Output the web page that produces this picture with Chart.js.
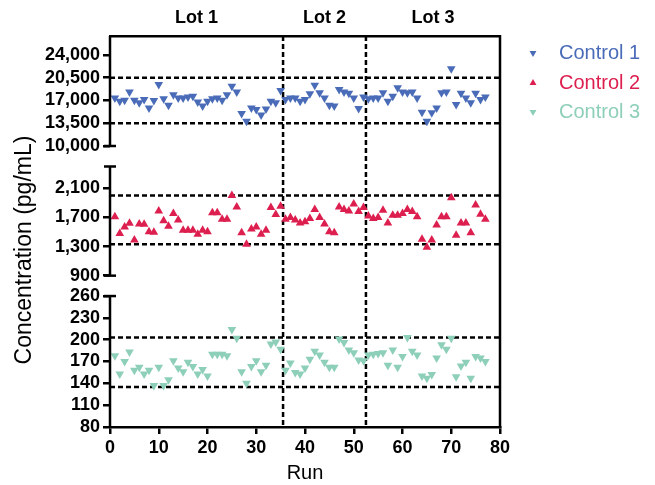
<!DOCTYPE html>
<html><head><meta charset="utf-8">
<script src="https://cdn.jsdelivr.net/npm/chart.js@4"></script>
<style>html,body{margin:0;padding:0;background:#fff}</style>
</head><body>
<canvas id="c" width="655" height="485" style="display:block;width:655px;height:485px"></canvas>
<script>
const runs = [1,2,3,4,5,6,7,8,9,10,11,12,13,14,15,16,17,18,19,20,21,22,23,24,25,26,27,28,29,30,31,32,33,34,35,36,37,38,39,40,41,42,43,44,45,46,47,48,49,50,51,52,53,54,55,56,57,58,59,60,61,62,63,64,65,66,67,68,69,70,71,72,73,74,75,76,77];
const control1 = [17400,16900,17050,18300,17050,16650,17150,15850,17000,19450,17250,16250,17900,17400,17400,17550,17650,16750,16150,16900,17250,17400,17050,17900,19200,18300,15000,13800,15850,15600,14750,15700,16900,16650,18550,17150,17400,17400,16900,17150,18050,19350,18200,17400,16250,16150,18700,18300,18100,17400,15750,17550,17250,17400,17400,18200,16900,17650,18950,18300,18200,18300,17400,15200,13800,15100,15850,18200,18300,21900,16400,18100,17400,16650,18100,17150,17550];
const control2 = [1710,1480,1570,1620,1390,1610,1605,1505,1495,1790,1655,1580,1755,1665,1525,1525,1525,1470,1525,1505,1765,1765,1675,1675,2000,1845,1490,1330,1540,1570,1470,1525,1835,1740,1855,1675,1700,1665,1625,1640,1685,1810,1700,1610,1505,1490,1845,1810,1790,1885,1780,1835,1720,1685,1700,1800,1625,1730,1730,1755,1810,1780,1710,1400,1290,1390,1595,1710,1710,1970,1455,1625,1625,1490,1870,1745,1675];
const control3 = [178,153,170,183,158,162,153,158,137,162,137,145,171,161,156,169,163,153,159,150,180,180,180,178,214,202,156,140,163,171,156,165,194,197,187,158,168,155,153,161,173,184,179,169,162,162,201,196,186,182,172,171,179,180,181,182,165,186,162,177,203,184,179,150,147,152,175,193,187,202,149,164,169,147,177,175,170];
const seriesNames = ['Control 1', 'Control 2', 'Control 3'];
const seriesColors = ['#4a6cb8', '#dd1f4f', '#8dcfb8'];
const lotLabels = ['Lot 1', 'Lot 2', 'Lot 3'];
const lotCenters = [17.75, 44, 66.25];
const lotBreaks = [35.5, 52.5];
const ticks1 = [10000, 13500, 17000, 20500, 24000];
const ticks2 = [900, 1300, 1700, 2100];
const ticks3 = [80, 110, 140, 170, 200, 230, 260];
const limits1 = [13500, 20500];
const limits2 = [1330, 2000];
const limits3 = [135, 203];

const BLACK = '#000';
const FONT = "'Liberation Sans', Arial, sans-serif";
const tickFont = {family: FONT, size: 18, weight: 'bold'};

function pts(vals) { return runs.map((r, i) => ({x: r, y: vals[i]})); }
function limitSets(vals, axis) {
  return vals.map(v => ({
    type: 'scatter', data: [{x: 0, y: v}, {x: 80, y: v}], yAxisID: axis, showLine: true,
    borderColor: BLACK, borderWidth: 2.5, borderDash: [5, 3], pointRadius: 0, order: 2
  }));
}
function pointSet(i, vals, axis, rot) {
  return {
    label: seriesNames[i], data: pts(vals), yAxisID: axis, pointStyle: 'triangle', rotation: rot,
    pointRadius: 5, pointBorderWidth: 0, backgroundColor: seriesColors[i], borderColor: seriesColors[i], order: 0
  };
}
function yAxis(min, max, weight, ticks) {
  return {
    type: 'linear', position: 'left', stack: 'conc', stackWeight: weight, min: min, max: max,
    border: {display: false},
    grid: {drawOnChartArea: false, drawTicks: true, tickLength: 7, lineWidth: 2.5, color: BLACK},
    ticks: {font: tickFont, color: BLACK, padding: 3, autoSkip: false, callback: v => v.toLocaleString('en-US')},
    afterBuildTicks: s => { s.ticks = ticks.map(v => ({value: v})); },
    afterFit: s => { s.width = 110; }
  };
}

const decor = {
  id: 'decor',
  beforeDatasetsDraw(chart) {
    const {ctx, chartArea: a, scales} = chart;
    ctx.save();
    ctx.strokeStyle = BLACK; ctx.lineWidth = 2.5; ctx.setLineDash([5, 3]);
    lotBreaks.forEach(b => {
      const x = scales.x.getPixelForValue(b);
      ctx.beginPath(); ctx.moveTo(x, a.top); ctx.lineTo(x, a.bottom); ctx.stroke();
    });
    ctx.restore();
  },
  afterDraw(chart) {
    const {ctx, chartArea: a, scales} = chart;
    ctx.save();
    ctx.strokeStyle = BLACK; ctx.lineWidth = 2.5; ctx.setLineDash([]);
    ctx.beginPath(); ctx.moveTo(a.right, a.top - 1); ctx.lineTo(a.right, a.bottom + 1); ctx.stroke();
    const segs = [[scales.y1, scales.y1.max, 10000, false, true], [scales.y2, 2400, 900, true, true], [scales.y3, 260, 80, true, false]];
    const L = a.left;
    segs.forEach(([s, v0, v1, c0, c1]) => {
      const p0 = s.getPixelForValue(v0), p1 = s.getPixelForValue(v1);
      ctx.beginPath(); ctx.moveTo(L, p0); ctx.lineTo(L, p1); ctx.stroke();
      if (c0) { ctx.beginPath(); ctx.moveTo(L - 6, p0); ctx.lineTo(L + 6, p0); ctx.stroke(); }
      if (c1) { ctx.beginPath(); ctx.moveTo(L - 6, p1); ctx.lineTo(L + 6, p1); ctx.stroke(); }
    });
    ctx.fillStyle = BLACK; ctx.font = "23px " + FONT; ctx.textAlign = 'center'; ctx.textBaseline = 'middle';
    ctx.translate(25, 250); ctx.rotate(-Math.PI / 2); ctx.fillText('Concentration (pg/mL)', 0, 0);
    ctx.restore();
    ctx.save();
    const rows = [a.top + 17, a.top + 47, a.top + 76];
    const rots = [180, 0, 180];
    seriesNames.forEach((n, i) => {
      ctx.fillStyle = seriesColors[i];
      Chart.helpers.drawPoint(ctx, {pointStyle: 'triangle', rotation: rots[i], radius: 4, borderWidth: 0}, a.right + 33, rows[i]);
      ctx.font = "20px " + FONT; ctx.textAlign = 'left'; ctx.textBaseline = 'middle';
      ctx.fillText(n, a.right + 59, rows[i]);
    });
    ctx.restore();
  }
};

new Chart(document.getElementById('c'), {
  type: 'scatter',
  data: {
    datasets: [
      pointSet(0, control1, 'y1', 180),
      pointSet(1, control2, 'y2', 0),
      pointSet(2, control3, 'y3', 180),
      ...limitSets(limits1, 'y1'), ...limitSets(limits2, 'y2'), ...limitSets(limits3, 'y3')
    ]
  },
  options: {
    responsive: false, animation: false, devicePixelRatio: 1,
    layout: {padding: {left: 0, right: 155, top: 0, bottom: 0}},
    plugins: {legend: {display: false}, tooltip: {enabled: false}},
    scales: {
      x: {
        type: 'linear', position: 'bottom', min: 0, max: 80,
        border: {display: true, color: BLACK, width: 2.5},
        grid: {drawOnChartArea: false, tickLength: 7, lineWidth: 2.5, color: BLACK},
        ticks: {font: tickFont, color: BLACK, padding: 3, stepSize: 10, maxRotation: 0},
        title: {display: true, text: 'Run', font: {family: FONT, size: 20}, color: BLACK, padding: 0},
        afterFit: s => { s.height = 58; }
      },
      x2: {
        type: 'linear', axis: 'x', position: 'top', min: 0, max: 80,
        border: {display: true, color: BLACK, width: 2.5},
        grid: {display: false, drawTicks: false},
        ticks: {font: tickFont, color: BLACK, padding: 7, maxRotation: 0, autoSkip: false,
          callback: (v) => { const k = lotCenters.indexOf(v); return k >= 0 ? lotLabels[k] : ''; }},
        afterBuildTicks: s => { s.ticks = lotCenters.map(v => ({value: v})); },
        afterFit: s => { s.height = 36; }
      },
      y3: yAxis(80, 273.8, 141, ticks3),
      y2: yAxis(758, 2551, 130.5, ticks2),
      y1: yAxis(8538, 26923, 119.5, ticks1)
    }
  },
  plugins: [decor]
});
</script>
</body></html>
